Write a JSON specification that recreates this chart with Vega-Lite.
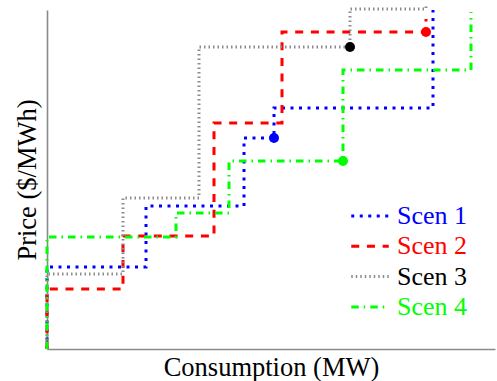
{
  "$schema": "https://vega.github.io/schema/vega-lite/v6.json",
  "width": 448,
  "height": 339,
  "autosize": {"type": "none"},
  "padding": {"left": 47, "top": 10, "right": 2, "bottom": 32},
  "background": "white",
  "config": {
    "view": {"stroke": null},
    "axis": {
      "domainColor": "#8a8a8a",
      "domainWidth": 1.6,
      "ticks": false,
      "labels": false,
      "grid": false,
      "titleFont": "Liberation Serif",
      "titleFontSize": 26.5,
      "titleFontWeight": "normal",
      "titleColor": "#000000"
    },
    "legend": {
      "orient": "none", "legendX": 309, "legendY": 192, "title": null,
      "symbolType": "M-1.5,0L1.5,0", "symbolSize": 625,
      "labelFont": "Liberation Serif", "labelFontSize": 26, "labelOffset": 13,
      "rowPadding": 3.3, "padding": 0, "labelLimit": 0
    }
  },
  "datasets": {
    "steps": [
      {"scen": "Scen 1", "k": 0, "x": 0, "y": 0},
      {"scen": "Scen 1", "k": 1, "x": 0, "y": 82},
      {"scen": "Scen 1", "k": 2, "x": 99, "y": 143},
      {"scen": "Scen 1", "k": 3, "x": 197, "y": 211},
      {"scen": "Scen 1", "k": 4, "x": 227, "y": 241},
      {"scen": "Scen 1", "k": 5, "x": 386, "y": 339},
      {"scen": "Scen 2", "k": 0, "x": 0, "y": 0},
      {"scen": "Scen 2", "k": 1, "x": 0, "y": 60},
      {"scen": "Scen 2", "k": 2, "x": 76, "y": 113},
      {"scen": "Scen 2", "k": 3, "x": 167, "y": 226},
      {"scen": "Scen 2", "k": 4, "x": 235, "y": 317},
      {"scen": "Scen 2", "k": 5, "x": 379, "y": 330},
      {"scen": "Scen 3", "k": 0, "x": 0, "y": 0},
      {"scen": "Scen 3", "k": 1, "x": 0, "y": 75},
      {"scen": "Scen 3", "k": 2, "x": 76, "y": 151},
      {"scen": "Scen 3", "k": 3, "x": 152, "y": 302},
      {"scen": "Scen 3", "k": 4, "x": 303, "y": 340},
      {"scen": "Scen 3", "k": 5, "x": 379, "y": 345},
      {"scen": "Scen 4", "k": 0, "x": 0, "y": 0},
      {"scen": "Scen 4", "k": 1, "x": 0, "y": 112},
      {"scen": "Scen 4", "k": 2, "x": 129, "y": 136},
      {"scen": "Scen 4", "k": 3, "x": 182, "y": 188},
      {"scen": "Scen 4", "k": 4, "x": 296, "y": 279},
      {"scen": "Scen 4", "k": 5, "x": 424, "y": 337}
    ],
    "dots": [
      {"scen": "Scen 1", "x": 227, "y": 211},
      {"scen": "Scen 2", "x": 379, "y": 317},
      {"scen": "Scen 3", "x": 303, "y": 302},
      {"scen": "Scen 4", "x": 296, "y": 188}
    ]
  },
  "layer": [
    {
      "data": {"name": "steps"},
      "mark": {"type": "line", "interpolate": "step-after", "strokeCap": "butt"},
      "encoding": {
        "x": {"field": "x", "type": "quantitative", "scale": {"domain": [0, 448], "nice": false, "zero": false}, "axis": {"title": "Consumption (MW)", "titlePadding": 5}},
        "y": {"field": "y", "type": "quantitative", "scale": {"domain": [0, 339], "nice": false, "zero": false}, "axis": {"title": "Price ($/MWh)", "titlePadding": 6}},
        "order": {"field": "k", "type": "quantitative"},
        "color": {
          "field": "scen", "type": "nominal",
          "scale": {"domain": ["Scen 1", "Scen 2", "Scen 3", "Scen 4"], "range": ["#0000ff", "#ff0000", "#8c8c8c", "#00ff00"]},
          "legend": {"title": null, "encode": {
            "labels": {"update": {"fill": {"signal": "datum.value === 'Scen 1' ? '#0000ff' : datum.value === 'Scen 2' ? '#ff0000' : datum.value === 'Scen 4' ? '#00ff00' : '#000000'"}}},
            "symbols": {"update": {"strokeWidth": {"signal": "datum.value === 'Scen 3' ? 1.6 : 3"}}}}}
        },
        "strokeDash": {
          "field": "scen", "type": "nominal",
          "scale": {"domain": ["Scen 1", "Scen 2", "Scen 3", "Scen 4"], "range": [[3, 5.5], [8, 7.7], [1.5, 3], [7.5, 5, 1.5, 5]]},
          "legend": {"title": null, "encode": {
            "labels": {"update": {"fill": {"signal": "datum.value === 'Scen 1' ? '#0000ff' : datum.value === 'Scen 2' ? '#ff0000' : datum.value === 'Scen 4' ? '#00ff00' : '#000000'"}}},
            "symbols": {"update": {"strokeWidth": {"signal": "datum.value === 'Scen 3' ? 1.6 : 3"}}}}}
        },
        "strokeWidth": {
          "field": "scen", "type": "nominal",
          "scale": {"domain": ["Scen 1", "Scen 2", "Scen 3", "Scen 4"], "range": [3, 3, 1.6, 3]},
          "legend": {"title": null, "encode": {
            "labels": {"update": {"fill": {"signal": "datum.value === 'Scen 1' ? '#0000ff' : datum.value === 'Scen 2' ? '#ff0000' : datum.value === 'Scen 4' ? '#00ff00' : '#000000'"}}},
            "symbols": {"update": {"strokeWidth": {"signal": "datum.value === 'Scen 3' ? 1.6 : 3"}}}}}
        }
      }
    },
    {
      "data": {"name": "dots"},
      "mark": {"type": "circle", "size": 100, "opacity": 1},
      "encoding": {
        "x": {"field": "x", "type": "quantitative"},
        "y": {"field": "y", "type": "quantitative"},
        "fill": {"field": "scen", "type": "nominal", "scale": {"domain": ["Scen 1", "Scen 2", "Scen 3", "Scen 4"], "range": ["#0000ff", "#ff0000", "#000000", "#00ff00"]}, "legend": null}
      }
    },
    {
      "mark": {"type": "point", "shape": "M-0.83,-1L0,0L-0.83,1", "size": 144, "filled": false, "stroke": "#8a8a8a", "strokeWidth": 1.4, "opacity": 1},
      "encoding": {
        "x": {"datum": 448, "type": "quantitative"},
        "y": {"datum": 0, "type": "quantitative"}
      }
    },
    {
      "mark": {"type": "point", "shape": "M-1,0.83L0,0L1,0.83", "size": 144, "filled": false, "stroke": "#8a8a8a", "strokeWidth": 1.4, "opacity": 1},
      "encoding": {
        "x": {"datum": 0, "type": "quantitative"},
        "y": {"datum": 339, "type": "quantitative"}
      }
    }
  ]
}
